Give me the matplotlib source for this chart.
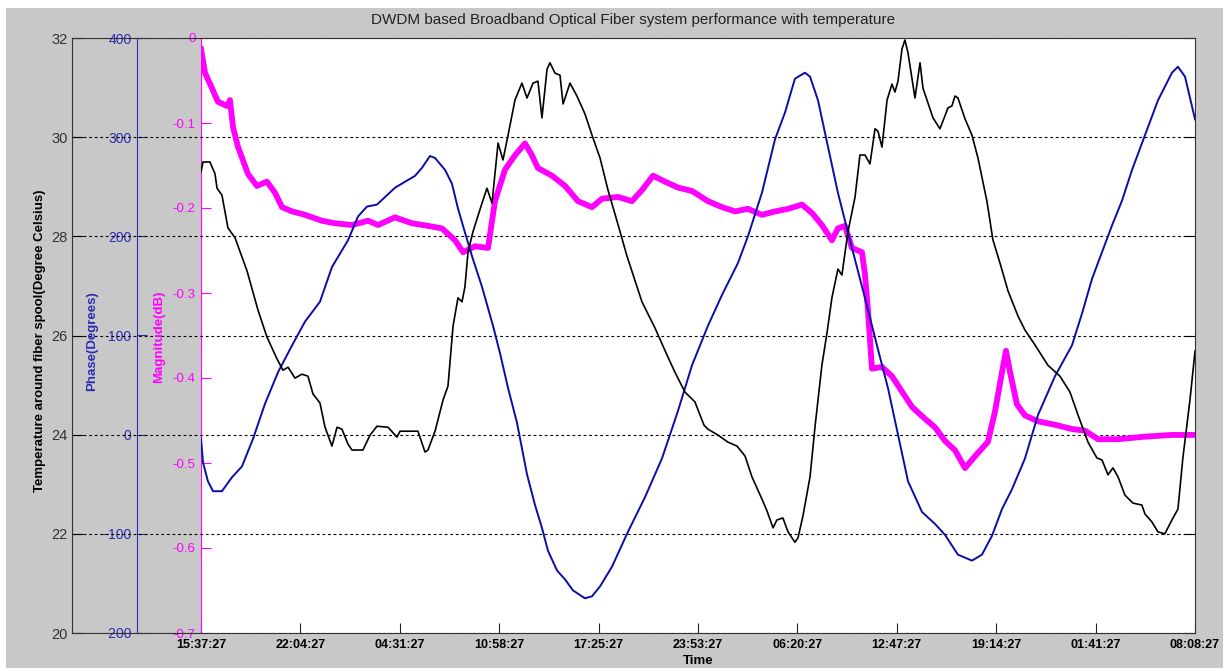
"""
plot.py
-------
DWDM fibre system performance vs temperature: three y-axes (temperature,
phase, magnitude) sharing one time axis, MATLAB-style grey figure.
"""

import matplotlib
matplotlib.use("Agg")
import matplotlib.pyplot as plt
import matplotlib.patches as mpatches

plt.rcParams.update({"font.family": "Liberation Sans"})

# ── Data (x = hours elapsed since 15:37:27) ───────────────────────────────────
temp_hours = [0.00, 0.13, 0.58, 0.91, 1.04, 1.36, 1.75, 2.21, 2.99, 3.70, 4.28, 4.93,
              5.32, 5.65, 6.10, 6.55, 6.94, 7.27, 7.72, 8.05, 8.50, 8.83, 9.15, 9.54,
              9.80, 10.51, 10.97, 11.42, 12.14, 12.72, 12.92, 14.08, 14.54, 14.73, 15.19,
              15.71, 16.03, 16.36, 16.68, 16.94, 17.13, 17.33, 17.65, 18.24, 18.56, 18.89,
              19.28, 19.60, 19.93, 20.38, 20.83, 21.16, 21.55, 21.87, 22.13, 22.46, 22.65,
              22.98, 23.30, 23.50, 23.95, 24.40, 24.92, 25.38, 25.90, 26.42, 27.00, 27.65,
              28.62, 29.47, 30.24, 30.76, 31.41, 32.06, 32.65, 32.91, 33.56, 34.20, 34.79,
              35.31, 35.76, 36.41, 36.74, 37.13, 37.38, 37.77, 38.10, 38.55, 38.75, 39.07,
              39.53, 39.85, 40.30, 40.63, 40.95, 41.34, 41.60, 41.99, 42.45, 42.77, 43.10,
              43.42, 43.75, 43.94, 44.20, 44.53, 44.85, 45.04, 45.24, 45.50, 45.69, 45.89,
              46.34, 46.67, 46.86, 47.12, 47.51, 47.96, 48.29, 48.48, 48.74, 48.94, 49.13,
              49.59, 50.04, 50.43, 51.01, 51.40, 51.86, 52.38, 53.03, 53.48, 54.13, 54.97,
              55.75, 56.40, 56.92, 57.57, 58.15, 58.48, 58.87, 59.19, 59.52, 59.97, 60.49,
              61.07, 61.27, 61.72, 62.11, 62.56, 63.02, 63.41, 63.73, 64.19, 64.52]
temp_c = [29.30, 29.50, 29.50, 29.26, 28.97, 28.83, 28.17, 27.97, 27.30, 26.51, 25.97, 25.53,
          25.30, 25.36, 25.14, 25.22, 25.18, 24.82, 24.64, 24.15, 23.77, 24.15, 24.11, 23.81,
          23.69, 23.69, 23.99, 24.17, 24.15, 23.95, 24.07, 24.07, 23.65, 23.69, 24.07,
          24.70, 24.98, 26.19, 26.76, 26.68, 26.98, 27.68, 28.09, 28.67, 28.97, 28.67,
          29.88, 29.54, 30.04, 30.75, 31.09, 30.79, 31.09, 31.13, 30.39, 31.37, 31.50,
          31.29, 31.25, 30.67, 31.09, 30.83, 30.47, 30.04, 29.58, 28.93, 28.31, 27.60,
          26.68, 26.15, 25.61, 25.26, 24.86, 24.66, 24.19, 24.11, 23.99, 23.85, 23.77,
          23.57, 23.15, 22.70, 22.46, 22.12, 22.28, 22.32, 22.04, 21.83, 21.92, 22.36,
          23.15, 24.15, 25.40, 26.05, 26.76, 27.34, 27.22, 28.09, 28.79, 29.64, 29.64,
          29.46, 30.17, 30.12, 29.80, 30.75, 31.07, 30.91, 31.13, 31.78, 31.96, 31.70,
          30.79, 31.50, 30.99, 30.75, 30.39, 30.17, 30.43, 30.59, 30.63, 30.83, 30.79,
          30.37, 30.04, 29.58, 28.71, 27.93, 27.46, 26.90, 26.39, 26.11, 25.81, 25.40,
          25.18, 24.86, 24.40, 23.85, 23.53, 23.49, 23.19, 23.33, 23.15, 22.78, 22.62,
          22.58, 22.40, 22.24, 22.04, 22.00, 22.28, 22.50, 23.53, 24.70, 25.69]

phase_hours = [0.00, 0.13, 0.45, 0.78, 1.36, 2.01, 2.66, 3.38, 4.15, 5.00, 5.91, 6.75,
               7.72, 8.50, 9.54, 10.19, 10.77, 11.42, 12.59, 13.89, 14.34, 14.86, 15.19,
               15.84, 16.29, 16.68, 17.13, 17.59, 18.24, 18.95, 19.41, 19.93, 20.51, 21.16,
               21.68, 22.13, 22.52, 23.11, 23.63, 24.14, 24.92, 25.38, 25.90, 26.68, 27.71,
               28.82, 29.92, 30.96, 31.87, 32.91, 33.82, 34.85, 35.50, 36.41, 37.26, 37.91,
               38.55, 39.20, 39.53, 40.05, 40.70, 41.34, 41.99, 42.64, 43.29, 43.94, 44.59,
               45.24, 45.89, 46.80, 47.64, 48.29, 49.13, 50.04, 50.69, 51.34, 51.99, 52.64,
               53.48, 54.33, 55.43, 56.53, 57.18, 57.83, 58.48, 59.13, 59.78, 60.43, 61.27,
               62.11, 63.02, 63.41, 63.87, 64.52]
phase_deg = [-4, -28, -47, -57, -57, -43, -32, -4, 31, 63, 90, 114,
             134, 169, 196, 220, 230, 232, 249, 261, 269, 281, 279,
             267, 253, 228, 204, 180, 149, 110, 82, 47, 12, -40,
             -71, -94, -117, -137, -146, -157, -165, -163, -153, -133, -98,
             -63, -24, 24, 70, 110, 141, 173, 200, 244, 298, 325,
             359, 365, 361, 337, 290, 244, 204, 165, 126, 86, 47,
             0, -47, -78, -90, -101, -121, -127, -121, -102, -75, -55,
             -24, 20, 59, 90, 122, 157, 184, 211, 236, 267, 302,
             337, 365, 371, 361, 318]

mag_hours = [0.00, 0.26, 0.71, 1.10, 1.69, 1.88, 2.08, 2.40, 3.05, 3.63, 4.28, 4.80,
             5.26, 5.91, 6.75, 7.85, 8.70, 9.80, 10.84, 11.49, 12.59, 13.70, 14.73,
             15.64, 16.49, 17.01, 17.78, 18.63, 19.08, 19.73, 20.38, 21.03, 21.48, 21.87,
             22.78, 23.63, 24.47, 25.38, 26.03, 27.07, 27.97, 28.62, 29.34, 30.12, 30.96,
             31.87, 32.91, 33.82, 34.66, 35.50, 36.41, 37.26, 38.10, 39.01, 39.66, 40.30,
             40.95, 41.34, 41.80, 42.25, 42.90, 43.10, 43.29, 43.55, 44.20, 44.85, 45.50,
             46.15, 46.99, 47.64, 48.29, 48.94, 49.59, 50.24, 51.08, 51.54, 51.99, 52.25,
             52.51, 52.96, 53.48, 54.33, 55.43, 56.53, 57.38, 58.22, 59.52, 61.27, 63.02,
             64.52]
mag_db = [-0.013, -0.041, -0.059, -0.075, -0.080, -0.073, -0.105, -0.128, -0.160, -0.174,
          -0.169, -0.182, -0.199, -0.204, -0.208, -0.215, -0.218, -0.220, -0.215, -0.220,
          -0.211, -0.218, -0.221, -0.224, -0.238, -0.252, -0.245, -0.247, -0.192, -0.155,
          -0.138, -0.124, -0.138, -0.153, -0.162, -0.174, -0.192, -0.199, -0.189, -0.187,
          -0.192, -0.179, -0.162, -0.169, -0.176, -0.180, -0.192, -0.199, -0.204, -0.201,
          -0.208, -0.204, -0.201, -0.196, -0.206, -0.220, -0.238, -0.224, -0.221, -0.247,
          -0.252, -0.279, -0.320, -0.389, -0.387, -0.398, -0.416, -0.434, -0.448, -0.458,
          -0.474, -0.485, -0.506, -0.492, -0.475, -0.439, -0.393, -0.368, -0.393, -0.431,
          -0.444, -0.451, -0.455, -0.460, -0.462, -0.472, -0.472, -0.469, -0.467, -0.467]

time_labels = ["15:37:27", "22:04:27", "04:31:27", "10:58:27", "17:25:27", "23:53:27",
               "06:20:27", "12:47:27", "19:14:27", "01:41:27", "08:08:27"]
total_hours = 64.517

temp_ticks = [20, 22, 24, 26, 28, 30, 32]
phase_ticks = [-200, -100, 0, 100, 200, 300, 400]
mag_ticks = [-0.7, -0.6, -0.5, -0.4, -0.3, -0.2, -0.1, 0]

C_GREY = "#c8c8c8"
C_BLUE_AX = "#2b2bb5"
C_BLUE = "#0c0ca8"
C_MAG = "#ff00ff"

# ── Figure ────────────────────────────────────────────────────────────────────
W, H = 1228, 671
fig = plt.figure(figsize=(W / 100, H / 100), dpi=100, facecolor="white")
fig.patches.append(mpatches.Rectangle((6 / W, 1 - 668 / H), (1223 - 6) / W, (668 - 8) / H,
                                      transform=fig.transFigure, facecolor=C_GREY,
                                      edgecolor="none", zorder=-10))


def box(x0, x1, y0=38, y1=633):
    return [x0 / W, 1 - y1 / H, (x1 - x0) / W, (y1 - y0) / H]


xticks = [i * total_hours / 10 for i in range(11)]

# magnitude axis: white plot area, magenta spine, time ticks
ax_m = fig.add_axes(box(201, 1195), facecolor="white", zorder=0)
ax_m.set_xlim(0, total_hours)
ax_m.set_ylim(-0.7, 0)
ax_m.set_yticks(mag_ticks)
ax_m.set_yticklabels(["-0.7", "-0.6", "-0.5", "-0.4", "-0.3", "-0.2", "-0.1", "0"])
ax_m.set_xticks(xticks)
ax_m.set_xticklabels(time_labels, fontweight="bold", fontsize=9)
for s in ["top", "right", "bottom"]:
    ax_m.spines[s].set_visible(False)
ax_m.spines["left"].set_color(C_MAG)
ax_m.tick_params(axis="y", direction="in", length=7, color=C_MAG, labelcolor=C_MAG,
                 labelsize=9.5, pad=4)
ax_m.tick_params(axis="x", direction="in", length=7, color="#222222", labelsize=9, pad=4)

# phase axis: only the blue spine with its ticks
ax_p = fig.add_axes(box(137, 1195), facecolor="none", zorder=1)
ax_p.set_ylim(-200, 400)
ax_p.set_yticks(phase_ticks)
ax_p.set_xticks([])
for s in ["top", "right", "bottom"]:
    ax_p.spines[s].set_visible(False)
ax_p.spines["left"].set_color(C_BLUE_AX)
ax_p.tick_params(axis="y", direction="in", length=7, color=C_BLUE_AX, labelcolor=C_BLUE_AX,
                 labelsize=10, pad=4)

# temperature axis: full box plus dashed grid
ax_t = fig.add_axes(box(72, 1195), facecolor="none", zorder=2)
ax_t.set_ylim(20, 32)
ax_t.set_yticks(temp_ticks)
ax_t.set_xticks([])
for s in ax_t.spines.values():
    s.set_color("#333333")
ax_t.tick_params(axis="y", direction="in", length=8, left=True, right=True,
                 labelcolor="#333333", labelsize=10.5, pad=3)
ax_t.grid(axis="y", color="black", linestyle=(0, (2.5, 2.5)), linewidth=0.8)

# data layers
ax_dm = fig.add_axes(box(201, 1195), facecolor="none", zorder=3)
ax_dm.plot(mag_hours, mag_db, color=C_MAG, linewidth=4.2, solid_joinstyle="round")
ax_dm.set_ylim(-0.7, 0)

ax_dp = fig.add_axes(box(201, 1195), facecolor="none", zorder=4)
ax_dp.plot(phase_hours, phase_deg, color=C_BLUE, linewidth=1.4)
ax_dp.set_ylim(-200, 400)

ax_dt = fig.add_axes(box(201, 1195), facecolor="none", zorder=5)
ax_dt.plot(temp_hours, temp_c, color="black", linewidth=1.2)
ax_dt.set_ylim(20, 32)

for a in (ax_dm, ax_dp, ax_dt):
    a.set_xlim(0, total_hours)
    a.axis("off")

# labels
fig.text(633 / W, 1 - 20 / H,
         "DWDM based Broadband Optical Fiber system performance with temperature",
         ha="center", va="center", fontsize=11, color="#222222")
fig.text(40 / W, 1 - 341 / H, "Temperature around fiber spool(Degree Celsius)",
         rotation=90, ha="center", va="center", fontsize=9.5, fontweight="bold")
fig.text(92 / W, 1 - 341 / H, "Phase(Degrees)", rotation=90, ha="center", va="center",
         fontsize=9.5, fontweight="bold", color=C_BLUE_AX)
fig.text(159 / W, 1 - 337 / H, "Magnitude(dB)", rotation=90, ha="center", va="center",
         fontsize=9.5, fontweight="bold", color=C_MAG)
fig.text(698 / W, 1 - 661 / H, "Time", ha="center", va="center",
         fontsize=9.5, fontweight="bold")

fig.savefig("out.png", dpi=100, facecolor="white")
